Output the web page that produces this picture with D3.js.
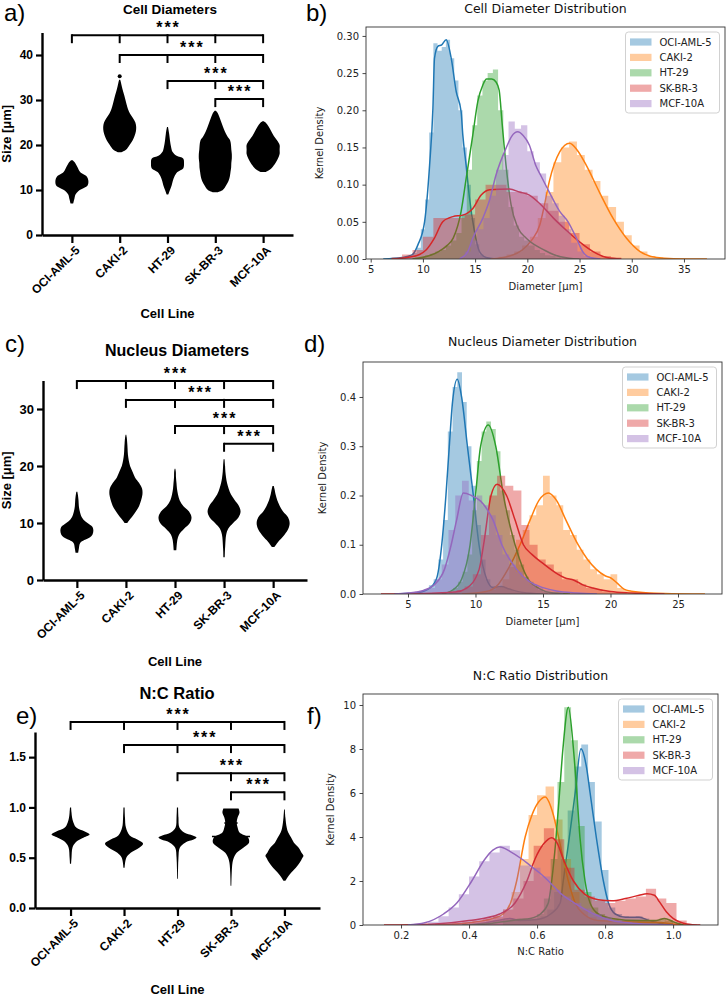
<!DOCTYPE html>
<html><head><meta charset="utf-8">
<script src="https://cdn.jsdelivr.net/npm/d3@7"></script>
<style>body{margin:0;background:#fff}svg{display:block}</style>
</head><body>
<svg id="c" width="726" height="997"></svg>
<script>
// ---------------- DATA ----------------
const cellLines = ["OCI-AML-5","CAKI-2","HT-29","SK-BR-3","MCF-10A"];
const seriesColors = ["#1f77b4","#ff7f0e","#2ca02c","#d62728","#9467bd"];

// swarm outlines: [value, relative half width]
const cellDiamProfiles = [
  [[7,0.08],[8,0.15],[9,0.22],[9.8,0.4],[10.5,0.75],[11,0.95],[12,1],[13,0.9],[13.5,0.7],[14,0.5],[15,0.35],[16,0.2],[16.6,0.05]],
  [[18.4,0.1],[19,0.4],[20,0.6],[21,0.78],[22,0.9],[23,0.98],[24,1],[25,0.95],[26,0.8],[27,0.62],[28,0.5],[29,0.42],[30,0.35],[31,0.28],[32,0.2],[33,0.13],[34,0.07],[34.5,0.03]],
  [[9,0.05],[10,0.15],[11,0.25],[12,0.32],[13,0.42],[14,0.6],[14.8,0.95],[16,1],[17,0.95],[17.6,0.55],[18.5,0.3],[19.5,0.22],[21,0.15],[22.5,0.1],[24,0.03]],
  [[9.5,0.15],[10,0.45],[11,0.65],[12,0.8],[13,0.88],[14,0.92],[15,0.96],[16,0.97],[17,1],[18,1],[19,0.97],[20,0.95],[21,0.9],[22,0.72],[23,0.58],[24,0.47],[25,0.37],[26,0.27],[27,0.16],[27.6,0.04]],
  [[14,0.15],[14.5,0.4],[15,0.55],[16,0.75],[17,0.9],[18,1],[19,1],[20,1],[21,0.85],[22,0.65],[23,0.5],[24,0.35],[25,0.15],[25.3,0.03]]
];
const cellOutliers = [[1,35.3]];
const nucDiamProfiles = [
  [[4.8,0.08],[5.5,0.12],[6.5,0.2],[7,0.45],[7.5,0.8],[8,0.95],[8.7,1],[9.3,0.95],[9.8,0.75],[10.3,0.5],[11,0.3],[12,0.18],[13,0.12],[14,0.1],[15,0.06],[15.5,0.03]],
  [[10,0.08],[10.5,0.2],[11,0.35],[12,0.6],[13,0.8],[14,0.92],[15,1],[16,0.98],[17,0.8],[18,0.55],[19,0.4],[20,0.25],[21,0.17],[22,0.12],[23,0.1],[24,0.08],[25,0.05],[25.5,0.02]],
  [[5.2,0.08],[6,0.1],[7,0.14],[8,0.25],[9,0.55],[10,0.9],[11,1],[12,0.85],[13,0.5],[14,0.28],[15,0.18],[16,0.12],[17,0.09],[18,0.06],[19,0.05],[19.5,0.02]],
  [[4,0.04],[5,0.05],[6,0.07],[7,0.09],[8,0.13],[9,0.25],[10,0.55],[11,0.88],[12,1],[13,0.9],[14,0.65],[15,0.42],[16,0.28],[17,0.18],[18,0.12],[19,0.08],[20,0.06],[21.2,0.03]],
  [[5.8,0.08],[6.5,0.25],[7,0.4],[8,0.7],[9,0.92],[10,1],[11,0.9],[12,0.6],[13,0.4],[14,0.25],[15,0.15],[16,0.08],[16.5,0.04]]
];
const ncProfiles = [
  [[0.44,0.03],[0.5,0.05],[0.6,0.1],[0.65,0.25],[0.7,0.7],[0.73,1],[0.76,0.75],[0.8,0.3],[0.85,0.15],[0.9,0.08],[0.95,0.05],[1.0,0.03]],
  [[0.4,0.03],[0.5,0.12],[0.55,0.35],[0.6,0.8],[0.64,1],[0.68,0.7],[0.72,0.3],[0.8,0.1],[0.9,0.05],[1.0,0.03]],
  [[0.29,0.02],[0.4,0.03],[0.5,0.05],[0.6,0.12],[0.65,0.4],[0.68,0.85],[0.7,1],[0.72,0.8],[0.75,0.35],[0.8,0.1],[0.9,0.05],[1.0,0.03]],
  [[0.22,0.02],[0.35,0.04],[0.45,0.08],[0.5,0.15],[0.55,0.3],[0.6,0.65],[0.65,0.95],[0.7,0.9],[0.75,0.45],[0.8,0.35],[0.85,0.3],[0.9,0.35],[0.95,0.45],[0.99,0.4]],
  [[0.27,0.05],[0.3,0.15],[0.35,0.35],[0.4,0.6],[0.45,0.8],[0.5,0.95],[0.52,1],[0.55,0.9],[0.6,0.75],[0.65,0.5],[0.7,0.35],[0.75,0.2],[0.8,0.12],[0.9,0.05],[0.98,0.02]]
];
const ncMeanLines = [[3,0.71,1.0],[3,0.845,0.35]];

// significance brackets [from, to] and their heights per panel
const sigBrackets = [[0,4],[1,4],[2,4],[3,4]];
const sigLabel = "***";
const cellBracketY = [44.4,40,34.2,30.2];
const nucBracketY = [34.9,31.6,27,23.9];
const ncBracketY = [1.85,1.62,1.34,1.15];

const cellTicks = [0,10,20,30,40];
const nucTicks = [0,10,20,30];
const ncTicks = [0,0.5,1.0,1.5];

// KDE curves [x, density]
const cellKde = [
  [[6.2,0],[8,0.002],[9,0.006],[9.52,0.019],[10.16,0.05],[10.64,0.126],[10.96,0.203],[11.11,0.27],[11.43,0.286],[11.8,0.288],[12.23,0.295],[12.71,0.27],[13.19,0.225],[13.66,0.198],[13.82,0.167],[14.14,0.126],[14.46,0.082],[14.94,0.037],[15.42,0.01],[16.05,0.002],[17,0]],
  [[16.5,0],[18.3,0.004],[19.5,0.012],[20.4,0.025],[21.2,0.046],[21.6,0.07],[22.1,0.104],[23.1,0.144],[24.05,0.1556],[24.8,0.146],[25.65,0.126],[26.9,0.09],[28.2,0.055],[29.5,0.028],[30.8,0.01],[32.4,0.002],[34,0.0005],[37.2,0]],
  [[9,0],[10.5,0.004],[11.5,0.01],[12.3,0.018],[12.9,0.028],[13.66,0.064],[14.14,0.108],[14.78,0.167],[15.26,0.212],[15.74,0.234],[16.1,0.242],[16.6,0.242],[17,0.238],[17.3,0.227],[17.6,0.18],[17.96,0.126],[18.44,0.073],[19.1,0.042],[19.9,0.028],[20.6,0.02],[21.5,0.013],[22.5,0.006],[24,0.001],[25,0]],
  [[7,0],[8.5,0.002],[9.68,0.006],[10.3,0.012],[11.1,0.028],[11.9,0.05],[12.87,0.057],[13.82,0.059],[14.78,0.068],[15.58,0.086],[16.4,0.093],[18.3,0.094],[19.25,0.09],[20.2,0.086],[21.3,0.073],[22.5,0.055],[23.7,0.039],[25,0.023],[26.3,0.01],[27.6,0.002],[29,0]],
  [[13.5,0],[14.3,0.01],[14.78,0.028],[15.74,0.055],[16.4,0.08],[17.0,0.113],[17.96,0.149],[18.5,0.165],[19.08,0.171],[19.6,0.166],[20.2,0.153],[20.8,0.126],[21.3,0.112],[22.1,0.09],[23.1,0.064],[23.9,0.05],[24.7,0.028],[25.3,0.01],[26,0.002],[27,0]]
];
const nucKde = [
  [[4,0],[5.5,0.002],[6.5,0.01],[7.1,0.03],[7.5,0.1],[7.81,0.2],[8.06,0.3],[8.3,0.39],[8.65,0.436],[8.97,0.4],[9.4,0.3],[9.84,0.2],[10.26,0.1],[10.83,0.03],[11.3,0.013],[11.9,0.015],[12.5,0.01],[13.5,0.003],[15,0]],
  [[9,0],[10.8,0.005],[11.7,0.02],[12.4,0.05],[13.3,0.1],[14.04,0.15],[14.7,0.19],[15.4,0.205],[16,0.19],[16.7,0.15],[17.6,0.1],[18.3,0.07],[18.95,0.05],[19.6,0.037],[20,0.033],[20.5,0.022],[21,0.01],[22,0.004],[24,0.001],[27,0]],
  [[7.5,0],[8.3,0.008],[8.97,0.03],[9.6,0.1],[10,0.2],[10.38,0.3],[10.95,0.343],[11.5,0.3],[12.07,0.2],[12.93,0.1],[13.9,0.03],[14.8,0.01],[15.5,0.003],[17,0]],
  [[3,0],[6,0.001],[8.5,0.004],[9.35,0.012],[10.27,0.05],[10.6,0.1],[11.15,0.2],[11.6,0.223],[12.3,0.2],[12.93,0.15],[13.55,0.1],[14.2,0.08],[15,0.062],[16,0.042],[16.6,0.033],[17.3,0.028],[18,0.018],[18.7,0.012],[20,0.005],[21.5,0.002],[24,0]],
  [[4,0],[5,0.002],[6,0.006],[7,0.02],[7.7,0.05],[8.2,0.1],[8.6,0.15],[9.1,0.205],[9.7,0.2],[10.4,0.188],[10.9,0.17],[11.3,0.15],[11.95,0.1],[13.05,0.05],[14,0.025],[15,0.013],[16,0.006],[17.5,0.002],[19,0]]
];
const ncKde = [
  [[0.4,0],[0.45,0.1],[0.5,0.25],[0.52,0.3],[0.55,0.2],[0.6,0.25],[0.64,0.5],[0.668,1],[0.677,2],[0.695,4],[0.712,6],[0.729,8.01],[0.745,7.2],[0.756,6],[0.774,4],[0.795,2],[0.81,1],[0.83,0.5],[0.86,0.35],[0.9,0.35],[0.93,0.2],[0.96,0.08],[1.0,0]],
  [[0.3,0],[0.4,0.1],[0.47,0.3],[0.5,0.5],[0.522,1],[0.54,2],[0.565,4],[0.585,5],[0.605,5.6],[0.624,5.82],[0.64,5.4],[0.648,5],[0.663,4],[0.692,2],[0.712,1],[0.737,0.5],[0.78,0.2],[0.85,0.15],[0.95,0.12],[1.0,0.05],[1.04,0]],
  [[0.38,0],[0.45,0.05],[0.5,0.15],[0.55,0.25],[0.58,0.3],[0.61,0.5],[0.633,1],[0.643,2],[0.656,4],[0.666,6],[0.676,8],[0.692,9.9],[0.707,8],[0.717,6],[0.726,4],[0.741,2],[0.756,1],[0.78,0.5],[0.82,0.3],[0.9,0.2],[0.95,0.2],[0.975,0.3],[1.0,0.15],[1.03,0]],
  [[0.15,0],[0.3,0.05],[0.4,0.2],[0.49,0.5],[0.535,1],[0.57,2],[0.594,3],[0.62,3.7],[0.643,3.97],[0.66,3.7],[0.677,3],[0.707,2],[0.74,1.4],[0.78,1.15],[0.82,1.1],[0.86,1.2],[0.9,1.35],[0.923,1.42],[0.945,1.35],[0.96,1.05],[0.98,0.6],[1.0,0.3],[1.04,0.05],[1.08,0]],
  [[0.22,0],[0.27,0.1],[0.325,0.5],[0.364,1],[0.408,2],[0.447,3],[0.47,3.4],[0.491,3.55],[0.52,3.35],[0.555,3],[0.58,2.7],[0.609,2.35],[0.64,1.9],[0.668,1.45],[0.7,1.1],[0.726,0.85],[0.76,0.55],[0.785,0.38],[0.82,0.2],[0.88,0.08],[0.95,0.02],[1.0,0]]
];

// histograms: [first bin start, bin width, heights]
const cellHist = [
  [8.2,0.4,[0.002,0.004,0.008,0.015,0.04,0.08,0.17,0.29,0.28,0.285,0.295,0.27,0.24,0.2,0.15,0.1,0.055,0.02,0.006,0.002]],
  [16.5,0.75,[0.001,0.003,0.006,0.01,0.018,0.03,0.055,0.09,0.13,0.15,0.158,0.14,0.12,0.105,0.085,0.07,0.05,0.032,0.018,0.01,0.004,0.002,0.001]],
  [9.2,0.5,[0.002,0.003,0.005,0.007,0.01,0.012,0.018,0.025,0.035,0.06,0.12,0.18,0.22,0.24,0.25,0.255,0.2,0.12,0.07,0.045,0.03,0.025,0.018,0.012,0.008,0.005,0.004,0.002]],
  [7,1.0,[0.002,0.006,0.012,0.03,0.055,0.055,0.055,0.06,0.08,0.1,0.1,0.09,0.09,0.085,0.075,0.065,0.05,0.035,0.02,0.01,0.004,0.002]],
  [14,0.6,[0.01,0.025,0.04,0.055,0.085,0.12,0.14,0.185,0.175,0.18,0.145,0.13,0.115,0.085,0.075,0.058,0.04,0.022,0.01,0.004]]
];
const nucHist = [
  [5.5,0.35,[0.002,0.005,0.01,0.018,0.03,0.07,0.15,0.33,0.42,0.45,0.39,0.3,0.22,0.14,0.07,0.03,0.015,0.012,0.015,0.012,0.008,0.005,0.003]],
  [10,0.5,[0.002,0.004,0.008,0.015,0.03,0.055,0.11,0.13,0.16,0.18,0.24,0.2,0.18,0.13,0.12,0.09,0.07,0.05,0.04,0.03,0.04,0.012,0.008,0.005,0.004,0.002]],
  [8,0.35,[0.005,0.012,0.025,0.045,0.08,0.17,0.27,0.33,0.35,0.335,0.29,0.21,0.17,0.12,0.09,0.06,0.035,0.025,0.015,0.008,0.004]],
  [5,0.6,[0.001,0.002,0.002,0.003,0.004,0.005,0.008,0.015,0.04,0.12,0.2,0.24,0.22,0.21,0.14,0.1,0.07,0.06,0.045,0.03,0.03,0.02,0.012,0.01,0.005,0.003,0.002]],
  [5,0.5,[0.003,0.005,0.008,0.012,0.03,0.06,0.13,0.2,0.23,0.19,0.2,0.18,0.16,0.12,0.08,0.06,0.045,0.03,0.02,0.013,0.008,0.005,0.003]]
];
const ncHist = [
  [0.45,0.02,[0.1,0.2,0.25,0.3,0.25,0.2,0.25,0.3,0.4,0.7,1.5,3,5.2,7.2,8.2,6.5,4.7,2.5,0.8,0.5,0.4,0.35,0.4,0.3,0.15,0.08,0.04]],
  [0.35,0.025,[0.02,0.05,0.1,0.15,0.25,0.35,0.7,1.5,3.0,5.0,5.9,6.3,4.8,3.0,1.5,0.7,0.35,0.2,0.15,0.15,0.15,0.12,0.12,0.12,0.1,0.2,0.05]],
  [0.5,0.02,[0.2,0.25,0.3,0.3,0.3,0.5,1.2,3.0,6.5,9.9,8.4,4.5,1.5,0.8,0.5,0.3,0.25,0.2,0.2,0.2,0.2,0.2,0.2,0.3,0.2]],
  [0.2,0.03,[0.02,0.03,0.05,0.06,0.08,0.1,0.15,0.2,0.3,0.4,0.7,1.2,2.0,3.6,4.4,3.9,2.6,1.6,1.3,1.1,1.0,1.1,1.2,1.3,1.65,1.2,1.0,0.2,0.05]],
  [0.22,0.03,[0.02,0.05,0.15,0.4,0.8,1.4,2.2,2.9,3.3,3.6,3.4,2.7,2.6,2.2,1.6,1.3,1.0,0.75,0.5,0.35,0.2,0.12,0.08,0.05,0.03]]
];

const cellDistXTicks = [5,10,15,20,25,30,35];
const cellDistYTicks = [0,0.05,0.10,0.15,0.20,0.25,0.30];
const nucDistXTicks = [5,10,15,20,25];
const nucDistYTicks = [0,0.1,0.2,0.3,0.4];
const ncDistXTicks = [0.2,0.4,0.6,0.8,1.0];
const ncDistYTicks = [0,2,4,6,8,10];

// ---------------- DRAWING ----------------
const svg = d3.select("#c");
const FL = "'Liberation Sans', Arial, sans-serif";
const FR = "'DejaVu Sans', sans-serif";

function txt(x,y,s,o={}){
  const t = svg.append("text").attr("x",x).attr("y",y).text(s)
    .attr("font-family",o.family||FL).attr("font-size",o.size||12)
    .attr("font-weight",o.weight||"normal").attr("text-anchor",o.anchor||"middle").attr("fill",o.fill||"#000");
  if(o.rotate) t.attr("transform",`rotate(${o.rotate},${x},${y})`);
  if(o.ls) t.attr("letter-spacing",o.ls);
  return t;
}

function swarmPanel(o){
  const g = svg.append("g");
  const x = d3.scalePoint().domain(cellLines).range([o.x0,o.x1]).padding(o.pad);
  const y = d3.scaleLinear().domain(o.ydom).range([o.yb,o.yt]);
  const w = d3.scaleLinear().domain([0,1]).range([0,o.halfW]);
  o.profiles.forEach((p,i)=>{
    const cx = x(cellLines[i]);
    g.append("path").datum(p)
      .attr("d", d3.area().curve(d3.curveCatmullRom.alpha(0.5))
        .y(d=>y(d[0])).x0(d=>cx-w(d[1])).x1(d=>cx+w(d[1])))
      .attr("fill","#000");
  });
  (o.outliers||[]).forEach(d=>{
    g.append("circle").attr("cx",x(cellLines[d[0]])).attr("cy",y(d[1])).attr("r",2).attr("fill","#000");
  });
  (o.lines||[]).forEach(d=>{
    const cx = x(cellLines[d[0]]);
    g.append("line").attr("x1",cx-w(d[2])).attr("x2",cx+w(d[2])).attr("y1",y(d[1])).attr("y2",y(d[1]))
      .attr("stroke","#000").attr("stroke-width",1.5);
  });
  const ya = g.append("g").attr("transform",`translate(${o.x0},0)`)
    .call(d3.axisLeft(y).tickValues(o.ticks).tickFormat(o.fmt).tickSize(6).tickSizeOuter(0).tickPadding(3));
  ya.select(".domain").attr("stroke-width",2.4);
  ya.selectAll(".tick line").attr("stroke-width",2.2);
  ya.selectAll("text").attr("font-family",FL).attr("font-weight","bold").attr("font-size",o.tickSize).attr("fill","#000");
  const xa = g.append("g").attr("transform",`translate(0,${o.yb})`)
    .call(d3.axisBottom(x).tickSize(8).tickSizeOuter(0));
  xa.select(".domain").attr("stroke-width",2.4);
  xa.selectAll(".tick line").attr("stroke-width",2.2);
  xa.selectAll("text").attr("font-family",FL).attr("font-weight","bold").attr("font-size",12).attr("fill","#000")
    .attr("x",0).attr("y",0).attr("dy",null).attr("text-anchor","end")
    .attr("transform","translate(8,16) rotate(-45)");
  // brackets
  sigBrackets.forEach((b,j)=>{
    const ly = y(o.brackets[j]);
    g.append("line").attr("x1",x(cellLines[b[0]])).attr("x2",x(cellLines[b[1]])).attr("y1",ly).attr("y2",ly)
      .attr("stroke","#000").attr("stroke-width",2);
    for(let k=b[0];k<=b[1];k++){
      g.append("line").attr("x1",x(cellLines[k])).attr("x2",x(cellLines[k])).attr("y1",ly-1).attr("y2",ly+8)
        .attr("stroke","#000").attr("stroke-width",2);
    }
    const mx = (x(cellLines[b[0]])+x(cellLines[b[1]]))/2;
    txt(mx+1, ly-2, sigLabel, {size:16, weight:"bold", ls:2});
  });
  txt((o.x0+o.x1)/2, o.xlabY, "Cell Line", {size:13, weight:"bold"});
  if(o.ylab) txt(o.ylabX, (o.yb+o.yt)/2, o.ylab, {size:13, weight:"bold", rotate:-90});
  txt(o.titleX, o.titleY, o.title, {size:o.titleSize, weight:"bold"});
}

function distPanel(o){
  const g = svg.append("g");
  const x = d3.scaleLinear().domain(o.xdom).range([o.l,o.r]);
  const y = d3.scaleLinear().domain(o.ydom).range([o.b,o.t]);
  const cid = "clip"+o.id;
  svg.append("clipPath").attr("id",cid).append("rect").attr("x",o.l).attr("y",o.t).attr("width",o.r-o.l).attr("height",o.b-o.t);
  const plot = g.append("g").attr("clip-path",`url(#${cid})`);
  o.hist.forEach((h,i)=>{
    const [start,bw,hs] = h;
    const pts = hs.map((v,k)=>[start+k*bw, v]);
    pts.push([start+hs.length*bw, hs[hs.length-1]]);
    plot.append("path").datum(pts)
      .attr("d", d3.area().curve(d3.curveStepAfter).x(d=>x(d[0])).y0(y(0)).y1(d=>y(d[1])))
      .attr("fill",seriesColors[i]).attr("fill-opacity",0.4);
    plot.append("path").datum(o.kde[i])
      .attr("d", d3.line().curve(d3.curveMonotoneX).x(d=>x(d[0])).y(d=>y(d[1])))
      .attr("fill","none").attr("stroke",seriesColors[i]).attr("stroke-width",1.5);
  });
  g.append("rect").attr("x",o.l).attr("y",o.t).attr("width",o.r-o.l).attr("height",o.b-o.t)
    .attr("fill","none").attr("stroke","#333").attr("stroke-width",0.9);
  const xa = g.append("g").attr("transform",`translate(0,${o.b})`)
    .call(d3.axisBottom(x).tickValues(o.xticks).tickFormat(o.xfmt).tickSize(3.5).tickPadding(3.5).tickSizeOuter(0));
  const ya = g.append("g").attr("transform",`translate(${o.l},0)`)
    .call(d3.axisLeft(y).tickValues(o.yticks).tickFormat(o.yfmt).tickSize(3.5).tickPadding(3.5).tickSizeOuter(0));
  [xa,ya].forEach(a=>{
    a.select(".domain").remove();
    a.selectAll(".tick line").attr("stroke","#333").attr("stroke-width",0.9);
    a.selectAll("text").attr("font-family",FR).attr("font-size",10).attr("fill","#222");
  });
  txt((o.l+o.r)/2, o.t-o.titleGap, o.title, {family:FR, size:12.5, fill:"#111"});
  txt((o.l+o.r)/2, o.xlabY, o.xlab, {family:FR, size:10, fill:"#222"});
  txt(o.ylabX, (o.t+o.b)/2, "Kernel Density", {family:FR, size:10, fill:"#222", rotate:-90});
  // legend
  const lw = 94, lh = 81, lx = o.r-5.5-lw, ly = o.t+5;
  g.append("rect").attr("x",lx).attr("y",ly).attr("width",lw).attr("height",lh).attr("rx",3)
    .attr("fill","#fff").attr("fill-opacity",0.8).attr("stroke","#ccc").attr("stroke-width",0.9);
  cellLines.forEach((n,i)=>{
    const ry = ly + 10 + i*15.4;
    g.append("rect").attr("x",lx+4.5).attr("y",ry-3.6).attr("width",21.5).attr("height",7.2)
      .attr("fill",seriesColors[i]).attr("fill-opacity",0.4);
    txt(lx+34, ry+3.6, n, {family:FR, size:10, anchor:"start", fill:"#222"});
  });
}

// panel labels
txt(4, 21, "a)", {size:24, anchor:"start"});
txt(306, 21, "b)", {size:24, anchor:"start"});
txt(5, 352, "c)", {size:24, anchor:"start"});
txt(304, 352, "d)", {size:24, anchor:"start"});
txt(16, 724, "e)", {size:24, anchor:"start"});
txt(307, 724, "f)", {size:24, anchor:"start"});

swarmPanel({x0:42,x1:293,pad:0.625,yb:235,yt:32.5,ydom:[0,45],halfW:16.5,profiles:cellDiamProfiles,
  outliers:cellOutliers,ticks:cellTicks,fmt:d3.format("d"),tickSize:12,brackets:cellBracketY,
  xlabY:318,ylab:"Size [μm]",ylabX:11,title:"Cell Diameters",titleX:170,titleY:14,titleSize:13.5});
swarmPanel({x0:43,x1:307,pad:0.69,yb:580,yt:380.5,ydom:[0,35],halfW:16.5,profiles:nucDiamProfiles,
  ticks:nucTicks,fmt:d3.format("d"),tickSize:13,brackets:nucBracketY,
  xlabY:666,ylab:"Size [μm]",ylabX:11,title:"Nucleus Diameters",titleX:177,titleY:356,titleSize:16});
swarmPanel({x0:35,x1:320,pad:0.665,yb:908,yt:732,ydom:[0,1.75],halfW:19,profiles:ncProfiles,
  lines:ncMeanLines,ticks:ncTicks,fmt:d3.format(".1f"),tickSize:12,brackets:ncBracketY,
  xlabY:994,title:"N:C Ratio",titleX:177,titleY:699,titleSize:16.5});

distPanel({id:"b",l:366,r:725,t:27,b:259,xdom:[4.55,38.93],ydom:[0,0.312],hist:cellHist,kde:cellKde,
  xticks:cellDistXTicks,yticks:cellDistYTicks,xfmt:d3.format("d"),yfmt:d3.format(".2f"),
  title:"Cell Diameter Distribution",titleGap:14,xlab:"Diameter [µm]",xlabY:290,ylabX:323});
distPanel({id:"d",l:363,r:722,t:362,b:594,xdom:[1.667,28.26],ydom:[0,0.471],hist:nucHist,kde:nucKde,
  xticks:nucDistXTicks,yticks:nucDistYTicks,xfmt:d3.format("d"),yfmt:d3.format(".1f"),
  title:"Nucleus Diameter Distribution",titleGap:16,xlab:"Diameter [µm]",xlabY:625,ylabX:326});
distPanel({id:"f",l:363,r:718,t:694,b:925,xdom:[0.0882,1.132],ydom:[0,10.5],hist:ncHist,kde:ncKde,
  xticks:ncDistXTicks,yticks:ncDistYTicks,xfmt:d3.format(".1f"),yfmt:d3.format("d"),
  title:"N:C Ratio Distribution",titleGap:14,xlab:"N:C Ratio",xlabY:955,ylabX:334});
</script>
</body></html>
